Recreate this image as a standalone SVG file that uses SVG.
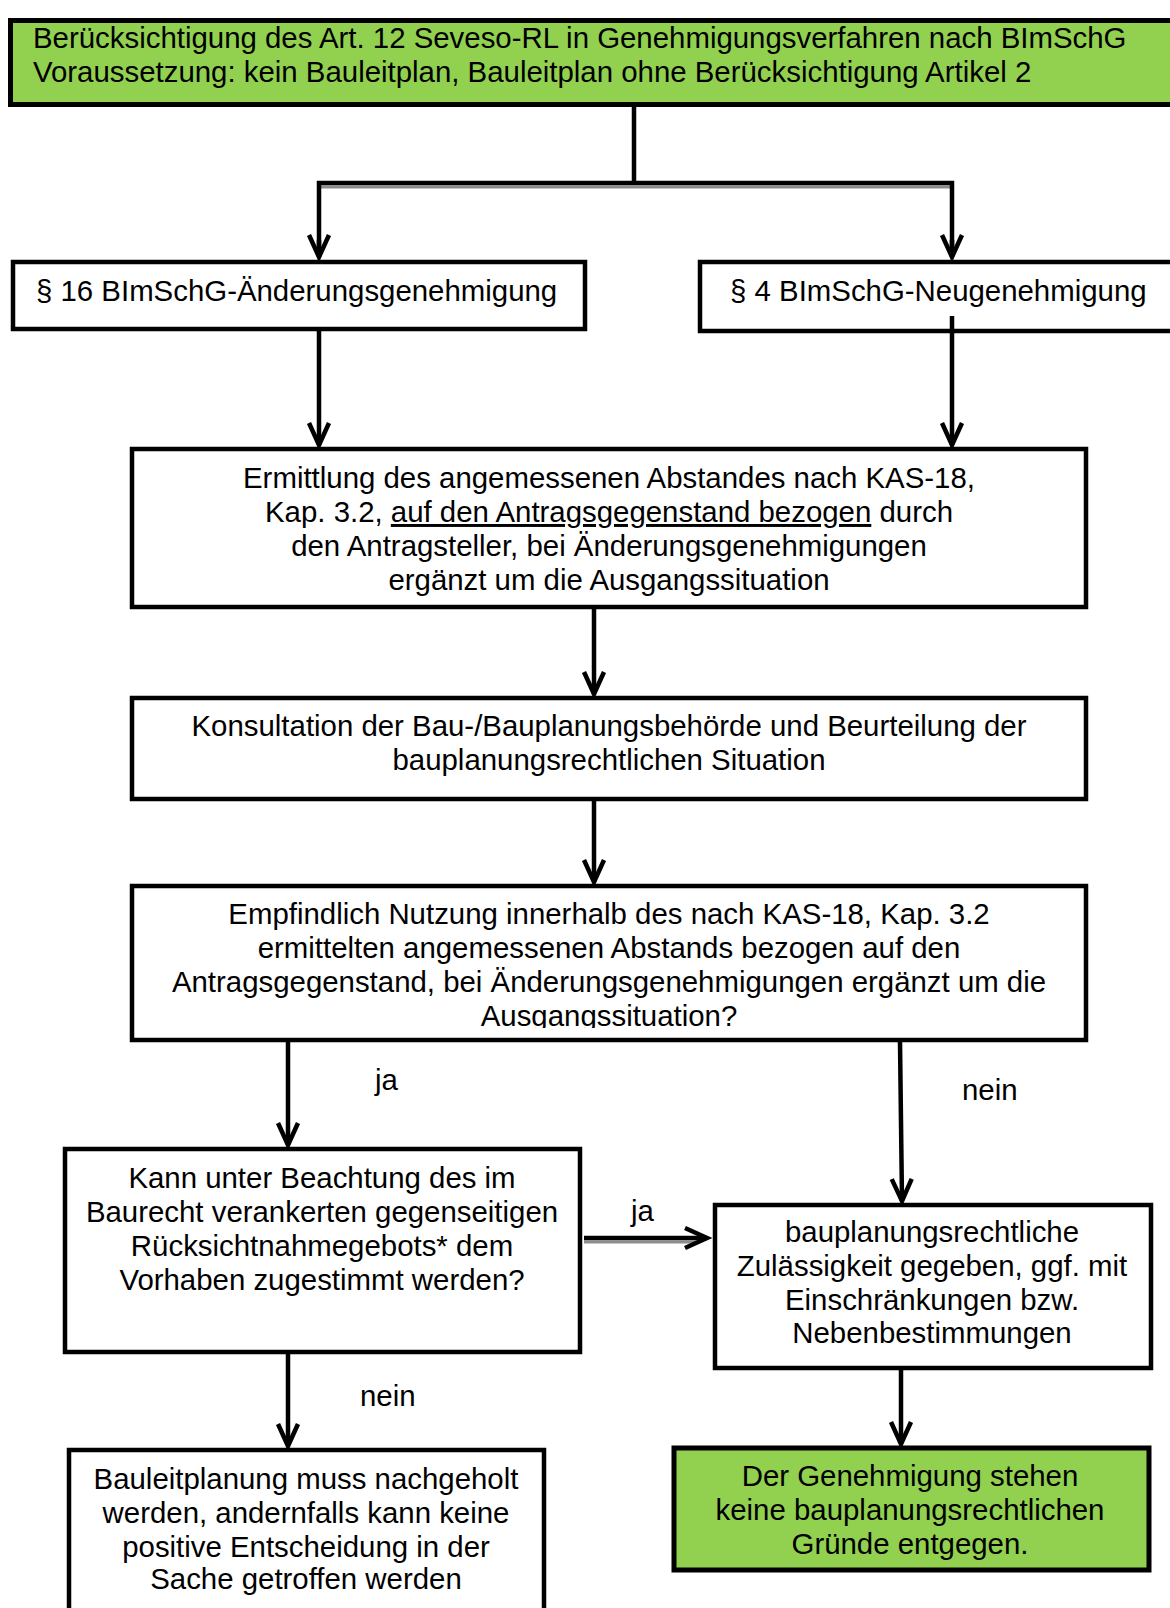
<svg xmlns="http://www.w3.org/2000/svg" width="1170" height="1608" viewBox="0 0 1170 1608">
<style>
text{font-family:"Liberation Sans",Arial,sans-serif;font-size:29.4px;fill:#000}
.c{text-anchor:middle}
.box{fill:#fff;stroke:#000;stroke-width:4.5}
.green{fill:#92D050;stroke:#000;stroke-width:5}
.ln{fill:none;stroke:#000;stroke-width:4.5}
.sh{fill:none;stroke:#8c8c8c;stroke-width:3}
</style>
<defs>
<marker id="ah" markerUnits="userSpaceOnUse" markerWidth="40" markerHeight="40" viewBox="-30 -20 40 40" refX="0" refY="0" orient="auto" overflow="visible">
<path d="M-22,-10 L0,0 L-22,10" fill="none" stroke="#000" stroke-width="4.5" stroke-linejoin="miter"/>
</marker>
<clipPath id="clip6"><rect x="130" y="884" width="958" height="144"/></clipPath>
</defs>
<rect width="1170" height="1608" fill="#fff"/>

<g id="n_top">
<rect class="green" x="10.5" y="20.5" width="1172" height="84"/>
<text x="33" y="48">Berücksichtigung des Art. 12 Seveso-RL in Genehmigungsverfahren nach BImSchG</text>
<text x="33" y="82">Voraussetzung: kein Bauleitplan, Bauleitplan ohne Berücksichtigung Artikel 2</text>
</g>

<g id="n_16">
<rect class="box" x="13" y="262" width="572" height="67"/>
<text x="36" y="301">§ 16 BImSchG-Änderungsgenehmigung</text>
</g>

<g id="n_4">
<rect class="box" x="700" y="262" width="482" height="69"/>
<text x="730" y="301">§ 4 BImSchG-Neugenehmigung</text>
</g>

<g id="n_ermittlung">
<rect class="box" x="132" y="449" width="954" height="158"/>
<text class="c" x="609" y="488">Ermittlung des angemessenen Abstandes nach KAS-18,</text>
<text class="c" x="609" y="522">Kap. 3.2, <tspan text-decoration="underline">auf den Antragsgegenstand bezogen</tspan> durch</text>
<text class="c" x="609" y="556">den Antragsteller, bei Änderungsgenehmigungen</text>
<text class="c" x="609" y="590">ergänzt um die Ausgangssituation</text>
</g>

<g id="n_konsultation">
<rect class="box" x="132" y="698" width="954" height="101"/>
<text class="c" x="609" y="736">Konsultation der Bau-/Bauplanungsbehörde und Beurteilung der</text>
<text class="c" x="609" y="770">bauplanungsrechtlichen Situation</text>
</g>

<g id="n_empfindlich">
<rect class="box" x="132" y="886" width="954" height="154"/>
<text class="c" x="609" y="924">Empfindlich Nutzung innerhalb des nach KAS-18, Kap. 3.2</text>
<text class="c" x="609" y="958">ermittelten angemessenen Abstands bezogen auf den</text>
<text class="c" x="609" y="992">Antragsgegenstand, bei Änderungsgenehmigungen ergänzt um die</text>
<text class="c" x="609" y="1026" clip-path="url(#clip6)">Ausgangssituation?</text>
</g>

<g id="n_ruecksicht">
<rect class="box" x="65" y="1149" width="515" height="203"/>
<text class="c" x="322" y="1188">Kann unter Beachtung des im</text>
<text class="c" x="322" y="1222">Baurecht verankerten gegenseitigen</text>
<text class="c" x="322" y="1256">Rücksichtnahmegebots* dem</text>
<text class="c" x="322" y="1290">Vorhaben zugestimmt werden?</text>
</g>

<g id="n_zulaessig">
<rect class="box" x="715" y="1205" width="436" height="163"/>
<text class="c" x="932" y="1242">bauplanungsrechtliche</text>
<text class="c" x="932" y="1276">Zulässigkeit gegeben, ggf. mit</text>
<text class="c" x="932" y="1310">Einschränkungen bzw.</text>
<text class="c" x="932" y="1343">Nebenbestimmungen</text>
</g>

<g id="n_bauleit">
<rect class="box" x="69" y="1450" width="475" height="175"/>
<text class="c" x="306" y="1489">Bauleitplanung muss nachgeholt</text>
<text class="c" x="306" y="1523">werden, andernfalls kann keine</text>
<text class="c" x="306" y="1557">positive Entscheidung in der</text>
<text class="c" x="306" y="1589">Sache getroffen werden</text>
</g>

<g id="n_ergebnis">
<rect class="green" x="674" y="1448" width="475" height="122"/>
<text class="c" x="910" y="1486">Der Genehmigung stehen</text>
<text class="c" x="910" y="1520">keine bauplanungsrechtlichen</text>
<text class="c" x="910" y="1554">Gründe entgegen.</text>
</g>

<g id="connectors">
<line class="sh" x1="321" y1="187" x2="952" y2="187"/>
<line class="ln" x1="634" y1="107" x2="634" y2="184"/>
<polyline class="ln" points="319,256 319,183 952,183 952,256"/>
<line class="ln" x1="319" y1="240" x2="319" y2="257" marker-end="url(#ah)"/>
<line class="ln" x1="952" y1="240" x2="952" y2="257" marker-end="url(#ah)"/>
<line class="ln" x1="319" y1="331" x2="319" y2="445" marker-end="url(#ah)"/>
<line class="ln" x1="952" y1="316" x2="952" y2="445" marker-end="url(#ah)"/>
<line class="ln" x1="594" y1="609" x2="594" y2="694" marker-end="url(#ah)"/>
<line class="ln" x1="594" y1="801" x2="594" y2="882" marker-end="url(#ah)"/>
<line class="ln" x1="288" y1="1042" x2="288" y2="1145" marker-end="url(#ah)"/>
<line class="ln" x1="900" y1="1042" x2="902" y2="1201" marker-end="url(#ah)"/>
<line class="sh" x1="584" y1="1242" x2="698" y2="1242"/>
<line class="ln" x1="584" y1="1238" x2="707" y2="1238" stroke-width="5" marker-end="url(#ah)"/>
<line class="ln" x1="288" y1="1354" x2="288" y2="1446" marker-end="url(#ah)"/>
<line class="ln" x1="901" y1="1370" x2="901" y2="1444" marker-end="url(#ah)"/>
<text x="375" y="1090">ja</text>
<text x="962" y="1100">nein</text>
<text x="631" y="1221">ja</text>
<text x="360" y="1406">nein</text>
</g>
</svg>
